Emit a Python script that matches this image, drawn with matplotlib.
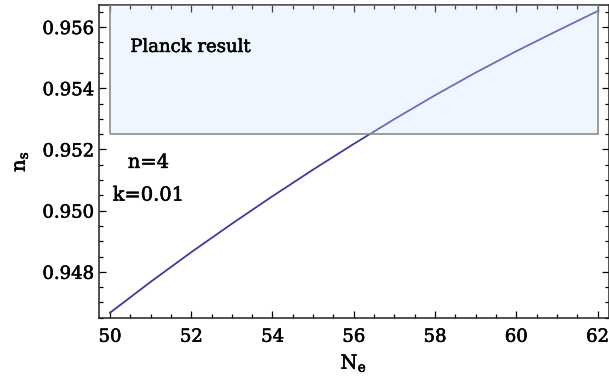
"""Spectral index n_s versus e-folds N_e, with the Planck band."""

import matplotlib
matplotlib.use("Agg")
import matplotlib.pyplot as plt
import matplotlib.patheffects as pe
from matplotlib.patches import Rectangle
from matplotlib.ticker import MultipleLocator, FormatStrFormatter

# values
n_efolds = [50, 51, 52, 53, 54, 55, 56, 57, 58, 59, 60, 61, 62]
n_s = [0.94666, 0.94767, 0.94864, 0.94957, 0.95047, 0.95134, 0.95218,
       0.95299, 0.95377, 0.95451, 0.95521, 0.95587, 0.95652]

planck_n_range = (50, 62)
planck_ns_range = (0.9525, 0.9600)

plt.rcParams["font.family"] = ["DejaVu Serif"]
plt.rcParams["mathtext.fontset"] = "custom"
plt.rcParams["mathtext.rm"] = "DejaVu Serif"
plt.rcParams["mathtext.it"] = "DejaVu Serif"

# slightly heavier glyphs, like the original rendering
heavy = [pe.withStroke(linewidth=0.4, foreground="black")]

fig = plt.figure(figsize=(6.09, 3.83), dpi=100)
ax = fig.add_axes([99 / 609, 65 / 383, 509.5 / 609, 313 / 383])

line_color = "#3d3d99"
ax.plot(n_efolds, n_s, color=line_color, lw=1.3, zorder=2)

# Planck band drawn over the curve, semi transparent like the original
x0, x1 = planck_n_range
y0, y1 = planck_ns_range
ax.add_patch(Rectangle((x0, y0), x1 - x0, y1 - y0, facecolor=(0.81, 0.89, 1.0),
                       alpha=0.3, edgecolor="none", zorder=3))
ax.add_patch(Rectangle((x0, y0), x1 - x0, y1 - y0, facecolor="none",
                       edgecolor="#8c8c8c", lw=1.2, zorder=4))

ax.set_xlim(49.73, 62.27)
ax.set_ylim(0.94649, 0.95672)

ax.xaxis.set_major_locator(MultipleLocator(2))
ax.xaxis.set_minor_locator(MultipleLocator(0.5))
ax.yaxis.set_major_locator(MultipleLocator(0.002))
ax.yaxis.set_minor_locator(MultipleLocator(0.0005))
ax.yaxis.set_major_formatter(FormatStrFormatter("%.3f"))

ax.tick_params(which="both", direction="in", top=True, right=True,
               labelsize=13, colors="black", width=0.9)
ax.tick_params(which="major", length=5)
ax.tick_params(axis="x", which="major", pad=7)
ax.tick_params(which="minor", length=3)
for lab in ax.get_xticklabels() + ax.get_yticklabels():
    lab.set_path_effects(heavy)
for sp in ax.spines.values():
    sp.set_linewidth(1.1)
    sp.set_color("#222222")

xl = ax.set_xlabel(r"$\mathrm{N_e}$", fontsize=14, labelpad=5)
yl = ax.set_ylabel(r"$\mathrm{n_s}$", fontsize=14, labelpad=9)
xl.set_path_effects(heavy)
yl.set_path_effects(heavy)

texts = [
    ax.text(50.5, 0.95535, "Planck result", fontsize=13, ha="left", va="center", zorder=5),
    ax.text(50.95, 0.95156, "n=4", fontsize=14, ha="center", va="center", zorder=5),
    ax.text(50.95, 0.95049, "k=0.01", fontsize=14, ha="center", va="center", zorder=5),
]
for t in texts:
    t.set_path_effects(heavy)

fig.savefig("out.png", dpi=100)
plt.close(fig)
